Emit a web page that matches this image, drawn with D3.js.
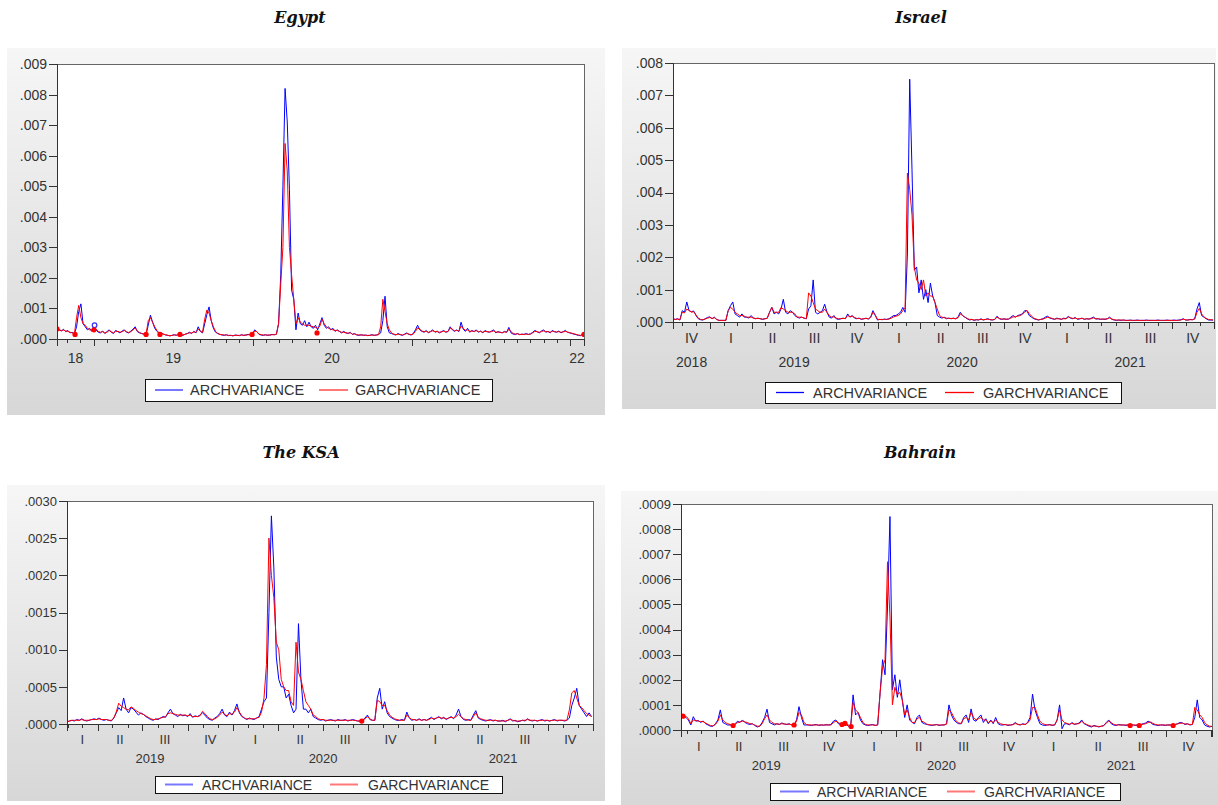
<!DOCTYPE html>
<html>
<head>
<meta charset="utf-8">
<script src="https://cdn.jsdelivr.net/npm/d3@7"></script>
<style>
  body { margin: 0; background: #fff; }
  svg { display: block; }
</style>
</head>
<body>
<div id="chart"></div>
<script>
// one observation every 5 days, values in the unit given per panel
const stepDays = 5;

// Egypt, units of 1e-4
const egyptStart = "2018-10-08";
const egyptEnd = "2022-02-02";
const egyptArch = [
  3.5,3.0,2.6,3.2,2.4,2.8,2.0,2.2,1.6,4.0,9.0,11.5,5.0,4.0,3.0,3.5,2.5,4.5,3.0,2.2,
  2.0,2.6,1.8,2.4,3.0,2.2,1.8,2.8,2.4,2.0,2.6,3.0,2.2,2.0,2.6,3.2,4.0,2.4,2.0,1.8,
  1.6,1.5,4.5,7.8,5.5,3.5,2.5,1.8,2.0,1.6,
  1.3,1.2,1.0,1.2,1.4,1.2,1.5,1.3,1.2,1.6,1.8,2.2,1.8,2.5,2.0,4.0,
  2.5,2.0,5.0,8.0,10.5,6.0,3.5,2.2,1.8,
  1.5,1.3,1.2,1.4,1.1,1.2,1.0,1.3,1.2,1.1,1.4,1.2,1.3,1.5,1.4,1.6,3.0,2.4,1.5,1.3,1.2,1.4,1.2,1.3,1.5,1.4,1.6,
  5,21,50,82,71,49,16,13,
  3,8.5,5,4.5,6,4,5.5,4,3.5,4.5,3.0,5.0,
  7.0,4.5,3.5,4.0,3.0,3.5,2.5,3.0,2.5,2.0,2.5,2.0,1.8,2.2,1.5,1.8,
  1.3,1.2,1.4,1.2,1.3,1.1,1.2,1.4,1.2,1.3,1.5,
  2.0,6.0,14.0,4.0,2.0,1.8,1.5,
  1.3,1.8,1.4,1.2,1.6,2.0,1.5,1.3,1.8,
  3.0,4.5,3.0,2.5,2.2,2.8,2.0,2.5,3.0,2.2,2.6,2.0,2.4,2.8,2.2,2.5,
  4.0,3.0,2.5,3.0,2.4,5.5,3.2,2.5,3.5,2.2,2.8,2.4,3.0,2.2,2.6,2.0,2.8,2.4,2.2,2.6,3.0,2.0,2.4,2.2,2.0,2.5,2.2,3.8,
  2.0,1.6,1.5,1.8,1.4,1.6,1.5,1.8,1.5,1.7,
  2.2,2.8,2.4,2.0,2.6,3.0,2.2,2.5,2.0,2.8,2.4,2.2,2.6,2.0,2.4,2.8,2.2,2.0,
  1.8,1.6,1.4,1.2,1.1,1.5
];
const egyptGarch = [
  3.4,3.0,2.8,2.9,2.6,2.5,2.2,2.0,1.6,7.0,11.0,7.0,5.0,4.5,3.5,3.0,3.0,4.0,3.2,2.5,
  2.2,2.4,2.0,2.2,2.8,2.4,2.0,2.5,2.5,2.2,2.4,2.8,2.4,2.1,2.4,3.0,3.6,2.6,2.1,1.8,
  1.6,1.5,6.0,7.0,5.5,4.0,2.8,2.0,1.8,1.6,
  1.4,1.2,1.1,1.2,1.3,1.3,1.5,1.4,1.3,1.5,1.8,2.0,2.0,2.3,2.2,3.2,
  2.6,2.2,6.5,9.5,8.5,6.0,4.0,2.5,1.8,
  1.5,1.4,1.3,1.3,1.2,1.2,1.1,1.2,1.2,1.2,1.3,1.2,1.3,1.4,1.4,1.5,2.6,2.4,1.6,1.4,1.3,1.3,1.3,1.3,1.4,1.4,1.5,
  5,18,30,64,55,30,21,13,
  5,7,5.5,5,4.5,4.5,4.5,4.2,4.0,3.8,3.5,4.2,
  6.5,5.0,4.0,3.5,3.2,3.0,2.8,2.8,2.5,2.2,2.2,2.0,1.9,2.0,1.6,1.6,
  1.4,1.3,1.3,1.3,1.2,1.2,1.2,1.3,1.2,1.3,1.4,
  4.0,13.0,9.0,5.0,3.0,2.0,1.6,
  1.4,1.6,1.5,1.3,1.5,1.8,1.6,1.4,1.6,
  2.5,3.6,3.2,2.6,2.4,2.5,2.2,2.4,2.7,2.4,2.4,2.2,2.3,2.6,2.3,2.4,
  3.6,3.2,2.7,2.8,2.6,4.2,3.5,2.8,3.0,2.5,2.6,2.5,2.7,2.4,2.5,2.2,2.5,2.4,2.3,2.4,2.7,2.2,2.3,2.2,2.1,2.3,2.2,3.2,
  2.4,1.8,1.6,1.7,1.5,1.5,1.5,1.6,1.5,1.6,
  2.0,2.5,2.4,2.2,2.4,2.7,2.4,2.4,2.2,2.5,2.4,2.3,2.4,2.2,2.3,2.5,2.3,2.1,
  1.9,1.7,1.5,1.3,1.2,1.4
];
// isolated observations (position in steps, value)
const egyptGarchDotIdx = [0, 8.3, 17, 41, 47.4, 56.6, 89.8, 119.7, 242.6];
const egyptGarchDotVal = [3.3, 1.5, 3.0, 1.5, 1.5, 1.5, 1.5, 2.0, 1.5];
const egyptArchDotIdx = [17.3];
const egyptArchDotVal = [4.5];

// Israel, units of 1e-4
const israelStart = "2018-10-12";
const israelEnd = "2022-01-01";
const israelArch = [
  1.0,0.8,1.0,0.6,3.5,3.0,6.2,3.5,3.2,3.4,2.0,1.0,0.7,0.6,1.0,1.4,1.6,1.0,1.5,0.8,0.5,0.5,0.5,0.5,
  3.5,5.0,6.2,2.5,2.0,1.5,2.5,1.5,1.5,1.2,2.0,1.2,1.0,1.2,1.0,0.8,1.0,1.2,
  3.0,4.5,2.5,3.0,2.5,4.0,7.0,3.0,2.5,3.5,3.0,2.0,1.5,1.2,1.5,1.2,1.0,
  4.0,5.0,13.0,3.0,2.5,3.0,3.5,5.5,3.0,
  1.5,1.2,2.0,1.0,0.8,1.0,1.2,1.0,2.5,1.5,2.0,1.2,1.0,1.2,0.8,1.0,1.2,0.9,1.5,3.5,2.0,0.6,0.8,0.7,0.9,0.8,1.0,
  1.5,2.0,2.0,2.5,3.0,4.5,3.0,
  21,75,47,16,17,9,13,7,10,6,12,8,6,2,1.5,
  1.2,1.5,1.0,1.2,1.0,1.2,1.0,1.5,3.0,2.0,1.5,
  1.0,0.6,0.8,0.5,0.7,0.6,1.0,0.6,0.8,1.0,0.7,0.6,0.8,
  1.8,1.0,0.8,1.0,0.8,0.9,1.5,2.0,1.5,2.0,2.2,2.5,3.5,3.5,2.0,1.5,1.0,0.8,0.6,0.8,1.0,1.5,
  1.8,1.2,1.0,0.8,1.2,1.0,0.8,1.2,1.0,1.8,1.2,1.0,1.4,0.8,1.0,1.2,0.8,1.0,0.9,1.2,1.5,0.9,1.0,0.8,0.9,0.8,1.0,1.5,
  0.8,0.6,0.5,0.6,0.5,0.6,0.5,0.5,0.6,0.5,0.5,0.6,0.5,0.5,0.5,0.6,0.5,0.5,0.5,0.5,0.6,0.5,0.5,0.5,0.6,0.5,0.5,0.6,0.5,0.6,0.7,
  1.0,0.6,0.6,0.8,0.7,1.0,4.0,6.0,2.0,1.5,1.0,0.6,0.6,0.6
];
const israelGarch = [
  0.9,0.8,0.9,0.7,3.0,2.8,4.0,3.6,3.0,3.2,2.2,1.2,0.8,0.7,0.9,1.2,1.4,1.1,1.3,0.8,0.5,0.5,0.5,0.5,
  3.5,4.5,4.0,3.0,2.5,2.0,2.0,1.8,1.5,1.5,1.5,1.2,1.1,1.1,1.0,0.9,1.0,1.1,
  3.0,4.5,3.0,3.0,3.0,4.5,4.0,3.5,3.0,3.0,3.0,2.5,1.5,1.5,1.5,1.2,1.0,
  9.0,8.0,6.0,4.0,3.5,3.0,3.0,4.0,3.0,
  2.0,1.5,1.6,1.2,1.0,1.0,1.1,1.1,2.0,1.6,1.8,1.4,1.1,1.1,0.9,1.0,1.1,1.0,1.4,3.0,2.2,0.8,0.8,0.8,0.8,0.8,0.9,
  1.2,1.6,1.8,2.0,2.5,3.5,4.5,
  46,41,33,17,13,12,10,13,8,9,8,8,6,4,2,
  1.5,1.3,1.2,1.1,1.1,1.1,1.0,1.3,2.5,2.0,1.5,
  1.1,0.8,0.8,0.6,0.7,0.7,0.8,0.7,0.8,0.9,0.7,0.7,0.8,
  1.5,1.1,0.9,0.9,0.9,0.9,1.2,1.6,1.6,1.8,2.0,2.4,3.0,3.6,2.6,1.8,1.2,0.9,0.7,0.8,0.9,1.2,
  1.5,1.3,1.1,0.9,1.0,1.0,0.9,1.0,1.0,1.5,1.3,1.1,1.2,1.0,1.0,1.1,0.9,1.0,0.9,1.0,1.3,1.0,1.0,0.9,0.9,0.9,1.0,1.3,
  0.9,0.7,0.6,0.6,0.6,0.6,0.5,0.5,0.5,0.5,0.5,0.5,0.5,0.5,0.5,0.5,0.5,0.5,0.5,0.5,0.5,0.5,0.5,0.5,0.5,0.5,0.5,0.5,0.5,0.5,0.6,
  0.9,0.7,0.6,0.7,0.7,0.9,3.0,4.2,2.5,1.6,1.1,0.8,0.7,0.6
];

// The KSA, units of 1e-4
const ksaStart = "2019-01-29";
const ksaEnd = "2022-01-01";
const ksaArch = [
  0.3,0.4,0.5,0.4,0.6,0.5,0.7,0.5,0.4,0.5,0.6,0.7,0.6,0.8,0.6,0.5,0.6,0.5,0.4,
  0.8,1.5,2.2,1.8,3.5,2.0,1.5,2.2,2.0,1.6,1.2,1.5,1.3,1.0,0.8,0.6,0.5,0.7,0.6,0.8,1.0,0.9,
  1.5,2.0,1.4,1.2,1.0,1.3,1.1,1.2,1.0,1.4,0.9,1.1,1.0,1.2,
  1.5,1.2,0.8,0.6,0.5,0.8,1.0,1.4,2.0,1.2,1.0,1.6,1.2,1.8,2.7,1.5,1.0,0.8,0.6,0.8,0.7,0.6,0.8,1.0,2.0,
  3.0,3.5,15,28,21,9,6,5,5,3.5,4,2.5,1.5,2,13.5,6,2,2,1.5,2,1,0.8,0.6,
  0.5,0.6,0.4,0.5,0.6,0.5,0.4,0.6,0.5,0.5,0.6,0.4,0.5,0.6,0.5,0.4,0.4,0.5,0.8,1.2,0.6,0.5,
  0.5,3.5,4.8,2.0,3.0,1.5,1.0,0.8,0.6,0.5,0.5,0.6,0.5,
  1.6,0.8,0.5,0.6,0.5,0.7,0.5,0.6,0.5,0.7,0.9,0.6,0.8,1.0,0.7,0.9,0.6,0.8,1.0,0.7,1.2,2.0,1.0,0.6,0.5,0.6,0.5,1.2,1.8,0.8,0.6,0.5,0.4,0.5,0.6,0.4,0.5,0.4,
  0.4,0.5,0.3,0.5,0.7,0.4,0.5,0.3,0.4,0.5,0.4,0.7,0.5,0.4,0.5,0.4,0.5,0.6,0.4,0.5,0.4,0.5,0.6,0.4,0.5,0.5,0.4,0.5,
  0.8,2.5,3.5,4.8,2.5,2.0,1.5,1.0,1.5,1.0
];
const ksaGarch = [
  0.3,0.4,0.5,0.5,0.5,0.5,0.6,0.5,0.5,0.5,0.6,0.6,0.6,0.7,0.6,0.6,0.6,0.5,0.5,
  0.8,1.6,2.8,2.4,2.2,2.0,1.9,2.3,2.1,1.8,1.6,1.4,1.3,1.1,0.9,0.7,0.6,0.6,0.7,0.8,0.9,1.0,
  1.4,1.5,1.4,1.3,1.2,1.2,1.2,1.2,1.1,1.2,1.0,1.0,1.0,1.1,
  1.7,1.4,1.0,0.7,0.6,0.7,0.9,1.2,1.6,1.3,1.1,1.4,1.3,1.6,2.2,1.6,1.1,0.8,0.7,0.7,0.7,0.7,0.8,0.9,1.6,
  3.5,8,25,20,17,11,10,6,5,4.5,4.5,3,2.5,11,7,6,4.5,3,2.5,2,1.2,1,0.7,
  0.6,0.6,0.5,0.5,0.5,0.5,0.5,0.5,0.5,0.5,0.5,0.5,0.5,0.5,0.5,0.4,0.4,0.5,0.7,1.0,0.7,0.5,
  0.5,3.2,3.0,2.5,2.5,1.8,1.2,0.9,0.7,0.6,0.5,0.5,0.5,
  1.2,0.9,0.6,0.6,0.5,0.6,0.5,0.6,0.5,0.6,0.8,0.7,0.8,0.9,0.8,0.8,0.7,0.8,0.9,0.8,1.0,1.3,1.0,0.7,0.6,0.5,0.5,1.0,1.5,0.9,0.7,0.6,0.5,0.5,0.5,0.5,0.5,0.4,
  0.4,0.4,0.4,0.5,0.6,0.5,0.4,0.4,0.4,0.5,0.5,0.6,0.5,0.5,0.5,0.4,0.5,0.5,0.5,0.5,0.4,0.5,0.5,0.5,0.5,0.5,0.5,0.5,
  1.9,4.2,4.5,3.5,2.5,2.2,1.8,1.4,1.2,1.0
];
const ksaGarchDotIdx = [119.7];
const ksaGarchDotVal = [0.4];

// Bahrain, units of 1e-5
const bahrainStart = "2019-01-19";
const bahrainEnd = "2022-01-03";
const bahrainArch = [
  6,5.5,5,4,
  2,5.3,3.5,3.8,3,3.6,2.5,2,1.5,1.5,2.5,4,8,3,2.5,2,2,1.5,2.5,3.5,3,4,3,2.5,2.2,2.5,1.8,1.2,1.5,3,5,8.3,3,2.5,2,
  2.5,2.2,2.8,2.4,2.2,2.5,2.0,
  2,4,9.3,5,2,2,
  2.0,1.8,2.0,2.2,1.8,2.0,1.9,2.1,2.0,2.2,
  3.5,4,2.5,2.2,2.8,3,1.5,1.2,
  14,6,7,4,2.5,
  2.0,1.8,2.0,2.2,1.8,
  2,15,28,22,49,85,16,22,13,20,12,5,10,4,3,2.5,5,6,3,2.5,
  2.2,2.0,1.8,2.0,2.2,1.8,2.0,2.0,2.5,
  10,6,4,3,2.5,2.5,5,6,3,8.4,4,3.5,5,6,3,4.5,2.5,4,2.5,5,2.5,2,
  2.0,2.2,1.8,2.0,2.2,3.0,2.2,2.0,2.5,2.2,
  3,5,14.3,8,5,2.5,
  2.0,1.8,2.0,2.2,1.8,2.0,
  4,10,0.5,2.5,
  2.5,2.0,3.0,2.2,2.5,2.8,4.0,2.5,2.0,
  1.5,1.2,1.8,1.5,1.2,1.5,1.8,
  3,4,2.5,
  2.0,1.8,2.2,2.0,2.0,1.8,2.0,2.2,2.0,1.8,2.0,2.2,2.5,2.8,
  3.5,3,2.2,
  2.0,1.8,2.0,2.0,1.8,2.0,2.0,2.0,
  2.2,2.5,3.0,2.8,2.2,2.5,2.0,2.2,
  5,12,5,4,2,1.5,1.2,1.5
];
const bahrainGarch = [
  5.5,5.8,5.5,4.5,
  2.5,4,3.8,3.5,3.4,3.3,2.8,2.2,1.8,1.6,2.2,3.5,6,4,3,2.5,2.2,1.8,2.2,3,3.2,3.5,3.2,3,2.5,2.4,2,1.5,1.5,2.5,4.5,6,4,3,2.5,
  2.4,2.3,2.5,2.4,2.3,2.3,2.1,
  2,3.5,7,6,3,2.2,
  2.0,2.0,2.0,2.0,2.0,2.0,2.0,2.0,2.0,2.0,
  3,3.5,3,2.2,2.6,3,2,1.4,
  11,8,7,5,3,
  2.2,2.0,2.0,2.0,1.9,
  2,15,25,28,67,45,10,17,14,15,12,6,8,5,3,3,4.5,5,3.5,3,
  2.3,2.1,2.0,2.0,2.1,2.0,2.0,2.0,2.3,
  8,7,5,3.5,2.8,2.6,4.5,5,4,7,5,4,4.5,5,4,4,3,3.5,3,4,3,2.5,
  2.2,2.1,2.0,2.0,2.1,2.6,2.3,2.1,2.3,2.2,
  2.8,4,9,9,6,3.5,
  2.6,2.2,2.0,2.0,2.0,2.0,
  4,8,4,3,
  2.6,2.3,2.6,2.4,2.4,2.6,3.5,2.7,2.2,
  1.8,1.5,1.6,1.5,1.4,1.5,1.7,
  2.8,3.5,3,
  2.2,2.0,2.0,2.0,2.0,2.0,2.0,2.0,2.0,2.0,2.0,2.1,2.3,2.5,
  3,3.2,2.6,
  2.2,2.0,2.0,2.0,2.0,2.0,2.0,2.0,
  2.2,2.4,2.7,2.7,2.4,2.4,2.2,2.2,
  9,8,6,5,3,2,1.5,1.4
];
const bahrainGarchDotIdx = [0.8, 21.2, 46, 65.5, 66.7, 69.2, 182.7, 186.4, 200.2];
const bahrainGarchDotVal = [5.5, 1.8, 2, 2.2, 2.6, 1.4, 1.8, 1.8, 1.8];

const seriesNames = ["ARCHVARIANCE", "GARCHVARIANCE"];
const quarterNames = ["I", "II", "III", "IV"];

const panels = [
  { title: "Egypt", start: egyptStart, end: egyptEnd, unit: 1e-4, yStep: 0.001, yTicks: 9, digits: 3,
    arch: egyptArch, garch: egyptGarch,
    archDots: [egyptArchDotIdx, egyptArchDotVal], garchDots: [egyptGarchDotIdx, egyptGarchDotVal],
    axis: "year", box: [7, 48, 598, 367], plot: [57, 64, 584, 339], titlePos: [300, 23],
    labelY: [363], font: 14, soft: true,
    legend: { box: [145, 379, 347, 22], blue: [155, 183], blueText: 190, red: [319, 348], redText: 355, size: 14.5 } },
  { title: "Israel", start: israelStart, end: israelEnd, unit: 1e-4, yStep: 0.001, yTicks: 8, digits: 3,
    arch: israelArch, garch: israelGarch, archDots: null, garchDots: null,
    axis: "quarter", box: [622, 48, 594, 361], plot: [673, 63, 1214, 322], titlePos: [921, 23],
    labelY: [343, 367], font: 14, soft: false,
    legend: { box: [765, 382, 356, 21], blue: [776, 804], blueText: 813, red: [945, 974], redText: 983, size: 14.5 } },
  { title: "The KSA", start: ksaStart, end: ksaEnd, unit: 1e-4, yStep: 0.0005, yTicks: 6, digits: 4,
    arch: ksaArch, garch: ksaGarch, archDots: null, garchDots: [ksaGarchDotIdx, ksaGarchDotVal],
    axis: "quarter", box: [7, 485, 598, 316], plot: [67, 501, 593, 724], titlePos: [301, 458],
    labelY: [744, 763], font: 13, soft: true,
    legend: { box: [155, 776, 347, 17], blue: [165, 193], blueText: 202, red: [330, 358], redText: 368, size: 14 } },
  { title: "Bahrain", start: bahrainStart, end: bahrainEnd, unit: 1e-5, yStep: 0.0001, yTicks: 9, digits: 4,
    arch: bahrainArch, garch: bahrainGarch, archDots: null, garchDots: [bahrainGarchDotIdx, bahrainGarchDotVal],
    axis: "quarter", box: [621, 491, 597, 314], plot: [681, 504, 1212, 730], titlePos: [920, 458],
    labelY: [751, 770], font: 13, soft: true,
    legend: { box: [770, 783, 350, 17], blue: [780, 809], blueText: 817, red: [947, 975], redText: 984, size: 14 } }
];

const DAY = 864e5;
const parseDate = d3.utcParse("%Y-%m-%d");
const labelFont = "'Liberation Sans', Arial, sans-serif";

const svg = d3.select("#chart").append("svg")
  .attr("width", 1218)
  .attr("height", 805);

const defs = svg.append("defs");
const grad = defs.append("linearGradient")
  .attr("id", "panelBg")
  .attr("x1", 0).attr("y1", 0).attr("x2", 0).attr("y2", 1);
grad.append("stop").attr("offset", "0%").attr("stop-color", "#f6f6f6");
grad.append("stop").attr("offset", "100%").attr("stop-color", "#d7d7d7");

panels.forEach(drawPanel);

function toRows(start, vals, unit) {
  const t0 = parseDate(start).getTime();
  return vals.map((v, i) => ({ date: new Date(t0 + i * stepDays * DAY), v: v * unit }));
}

function toDots(start, pair, unit) {
  const t0 = parseDate(start).getTime();
  return pair[0].map((s, i) => ({ date: new Date(t0 + s * stepDays * DAY), v: pair[1][i] * unit }));
}

function drawPanel(p, k) {
  const [left, top, right, bottom] = p.plot;
  const g = svg.append("g");

  g.append("rect")
    .attr("x", p.box[0]).attr("y", p.box[1])
    .attr("width", p.box[2]).attr("height", p.box[3])
    .attr("fill", "url(#panelBg)");

  svg.append("text")
    .attr("x", p.titlePos[0]).attr("y", p.titlePos[1])
    .attr("text-anchor", "middle")
    .attr("font-family", "'DejaVu Serif', serif")
    .attr("font-weight", "bold")
    .attr("font-style", "italic")
    .attr("font-size", 16)
    .attr("fill", "#111")
    .text(p.title);

  const t0 = parseDate(p.start), t1 = parseDate(p.end);
  const x = d3.scaleUtc().domain([t0, t1]).range([left, right]);
  const y = d3.scaleLinear().domain([0, p.yStep * p.yTicks]).range([bottom, top]);

  g.append("rect")
    .attr("x", left).attr("y", top)
    .attr("width", right - left).attr("height", bottom - top)
    .attr("fill", "#fff");

  defs.append("clipPath").attr("id", "clip" + k)
    .append("rect")
    .attr("x", left).attr("y", top - 1)
    .attr("width", right - left).attr("height", bottom - top + 1);

  const line = d3.line().x(d => x(d.date)).y(d => y(d.v));
  const plotG = g.append("g").attr("clip-path", "url(#clip" + k + ")");

  plotG.append("path")
    .datum(toRows(p.start, p.arch, p.unit))
    .attr("d", line)
    .attr("fill", "none")
    .attr("stroke", "#0000ff")
    .attr("stroke-width", 1);

  plotG.append("path")
    .datum(toRows(p.start, p.garch, p.unit))
    .attr("d", line)
    .attr("fill", "none")
    .attr("stroke", "#ff0000")
    .attr("stroke-width", 1);

  if (p.archDots) {
    plotG.selectAll(".adot").data(toDots(p.start, p.archDots, p.unit)).enter()
      .append("circle")
      .attr("cx", d => x(d.date)).attr("cy", d => y(d.v))
      .attr("r", 2.3)
      .attr("fill", "#fff").attr("stroke", "#3333ff").attr("stroke-width", 1.2);
  }
  if (p.garchDots) {
    plotG.selectAll(".gdot").data(toDots(p.start, p.garchDots, p.unit)).enter()
      .append("circle")
      .attr("cx", d => x(d.date)).attr("cy", d => y(d.v))
      .attr("r", 2.6)
      .attr("fill", "#ff0000");
  }

  // frame
  g.append("rect")
    .attr("x", left).attr("y", top)
    .attr("width", right - left).attr("height", bottom - top)
    .attr("fill", "none")
    .attr("stroke", "#666")
    .attr("shape-rendering", "crispEdges");

  // y axis
  const fmt = d3.format("." + p.digits + "f");
  const yAxis = d3.axisLeft(y)
    .tickValues(d3.range(p.yTicks + 1).map(i => +(i * p.yStep).toFixed(6)))
    .tickFormat(v => fmt(v).replace(/^0/, ""))
    .tickSize(8)
    .tickPadding(2);
  const ya = g.append("g").attr("transform", "translate(" + left + ",0)").call(yAxis);
  ya.select(".domain").attr("stroke", "#333").attr("shape-rendering", "crispEdges");
  ya.selectAll(".tick line").attr("stroke", "#333").attr("shape-rendering", "crispEdges");
  ya.selectAll(".tick text")
    .attr("font-family", labelFont)
    .attr("font-size", p.font)
    .attr("fill", "#333");

  // x ticks: months, longer ticks on years or quarters
  const months = d3.utcMonth.range(t0, t1);
  const isMajor = d => p.axis === "year" ? d.getUTCMonth() === 0 : d.getUTCMonth() % 3 === 0;
  const xMinor = d3.axisBottom(x).tickValues(months.filter(d => !isMajor(d))).tickFormat("").tickSize(4);
  const xMajor = d3.axisBottom(x).tickValues(months.filter(isMajor)).tickFormat("").tickSize(7);
  [xMinor, xMajor].forEach(ax => {
    const a = g.append("g").attr("transform", "translate(0," + bottom + ")").call(ax);
    a.select(".domain").attr("stroke", "#333").attr("shape-rendering", "crispEdges");
    a.selectAll(".tick line").attr("stroke", "#333").attr("shape-rendering", "crispEdges");
  });

  function spanLabels(interval, fmtLabel, yPos) {
    const starts = interval.range(interval.floor(t0), t1);
    starts.forEach(s => {
      const a = s < t0 ? t0 : s;
      const e = interval.offset(s, 1);
      const b = e > t1 ? t1 : e;
      if (x(b) - x(a) < 8) return;
      g.append("text")
        .attr("x", (x(a) + x(b)) / 2)
        .attr("y", yPos)
        .attr("text-anchor", "middle")
        .attr("font-family", labelFont)
        .attr("font-size", p.font)
        .attr("fill", "#333")
        .text(fmtLabel(s));
    });
  }

  if (p.axis === "year") {
    spanLabels(d3.utcYear, d3.utcFormat("%y"), p.labelY[0]);
  } else {
    spanLabels(d3.utcMonth.every(3), d => quarterNames[Math.floor(d.getUTCMonth() / 3)], p.labelY[0]);
    spanLabels(d3.utcYear, d3.utcFormat("%Y"), p.labelY[1]);
  }

  // legend
  const L = p.legend;
  const ly = L.box[1] + L.box[3] / 2;
  g.append("rect")
    .attr("x", L.box[0]).attr("y", L.box[1])
    .attr("width", L.box[2]).attr("height", L.box[3])
    .attr("fill", "#fff")
    .attr("stroke", "#111")
    .attr("shape-rendering", "crispEdges");
  const legendItems = [
    { name: seriesNames[0], color: p.soft ? "#7878ff" : "#0000ff", xs: L.blue, tx: L.blueText },
    { name: seriesNames[1], color: p.soft ? "#ff7878" : "#ff0000", xs: L.red, tx: L.redText }
  ];
  legendItems.forEach(it => {
    g.append("line")
      .attr("x1", it.xs[0]).attr("x2", it.xs[1])
      .attr("y1", ly).attr("y2", ly)
      .attr("stroke", it.color)
      .attr("stroke-width", p.soft ? 2 : 1.3);
    g.append("text")
      .attr("x", it.tx).attr("y", ly + 5)
      .attr("font-family", labelFont)
      .attr("font-size", L.size)
      .attr("fill", "#333")
      .text(it.name);
  });
}
</script>
</body>
</html>
